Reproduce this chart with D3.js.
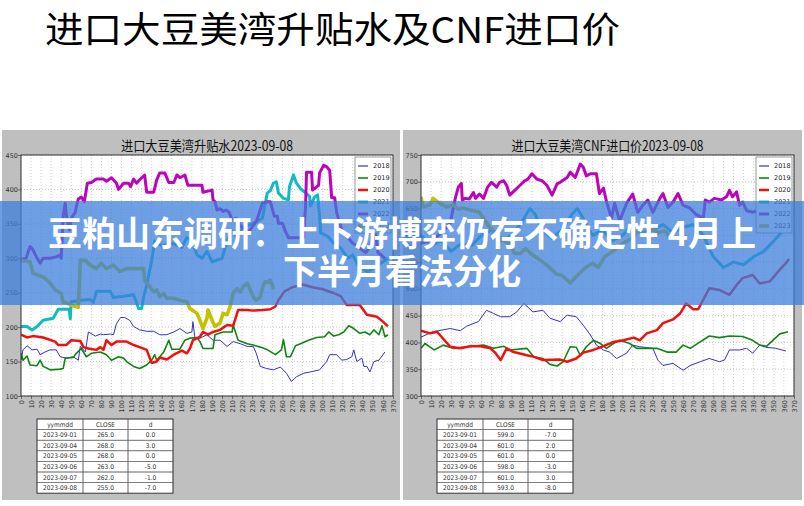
<!DOCTYPE html>
<html><head><meta charset="utf-8">
<script src="https://cdn.jsdelivr.net/npm/d3@7"></script>
<style>body{margin:0;background:#fff;}svg{display:block;}</style>
</head><body>
<svg id="c" width="804" height="506"></svg>
<script>
// ---------- text ----------
const pageTitle = "进口大豆美湾升贴水及CNF进口价";
const bannerLines = ["豆粕山东调研：上下游博弈仍存不确定性 4月上", "下半月看法分化"];
const leftTitle = "进口大豆美湾升贴水2023-09-08";
const rightTitle = "进口大豆美湾CNF进口价2023-09-08";
const years = ["2018", "2019", "2020", "2021", "2022", "2023"];
const xTicks = d3.range(0, 371, 10);
const leftYTicks = [100, 150, 200, 250, 300, 350, 400, 450];
const rightYTicks = [300, 350, 400, 450, 500, 550, 600, 650, 700, 750];

// ---------- left chart: 升贴水 (day, value) ----------
const L2018 = [[0,152],[2,167],[6,173],[11,167],[16,168],[19,160],[24,164],[29,167],[35,167],[39,157],[45,155],[52,157],[57,152],[59,172],[64,164],[67,193],[74,187],[79,190],[82,189],[89,190],[92,189],[95,205],[99,214],[103,214],[108,210],[112,201],[118,196],[125,194],[132,194],[138,189],[145,189],[152,193],[158,198],[165,191],[170,193],[171,208],[173,184],[178,184],[185,189],[191,181],[198,181],[205,172],[211,179],[218,176],[225,172],[231,172],[234,162],[238,143],[244,140],[251,138],[258,142],[264,133],[269,121],[274,128],[281,133],[288,135],[297,138],[304,150],[307,160],[314,160],[319,152],[324,153],[329,157],[331,167],[334,150],[339,155],[341,143],[344,143],[347,135],[351,150],[356,152],[362,164]];
const L2019 = [[0,162],[2,152],[6,158],[9,145],[16,144],[19,152],[22,143],[29,138],[39,139],[42,140],[44,155],[52,156],[55,162],[60,169],[65,157],[70,162],[79,164],[85,160],[90,152],[97,157],[102,155],[105,150],[112,143],[118,140],[125,145],[130,152],[133,160],[135,152],[138,157],[142,164],[147,181],[150,168],[158,168],[163,181],[168,184],[175,185],[178,179],[181,169],[191,169],[193,189],[201,193],[210,193],[211,203],[216,181],[225,176],[231,174],[238,171],[244,168],[253,160],[259,167],[261,182],[264,157],[268,157],[273,173],[278,176],[286,181],[294,185],[302,186],[306,193],[311,187],[316,189],[321,193],[326,202],[331,198],[337,191],[342,193],[347,189],[351,196],[356,189],[359,202],[362,186],[365,189]];
const L2020 = [[0,189],[6,185],[12,187],[22,185],[34,179],[37,174],[45,174],[50,181],[59,180],[62,171],[67,169],[75,167],[79,171],[82,167],[85,181],[90,174],[95,179],[105,179],[112,174],[118,171],[125,167],[130,148],[135,150],[138,156],[145,153],[152,160],[160,166],[165,162],[168,169],[171,181],[178,186],[181,193],[186,189],[191,193],[198,196],[205,203],[211,202],[216,225],[225,225],[231,224],[241,225],[248,226],[253,230],[256,239],[262,252],[270,258],[280,262],[290,258],[300,255],[310,250],[318,245],[324,232],[337,232],[344,218],[354,215],[360,208],[365,201]];
const L2021 = [[0,201],[6,201],[11,196],[16,201],[22,210],[32,213],[37,226],[45,226],[48,226],[49,212],[50,237],[59,239],[69,240],[72,236],[75,252],[89,252],[92,243],[102,245],[112,247],[117,227],[120,227],[122,244],[125,261],[130,297],[133,325],[140,318],[150,322],[160,316],[165,330],[170,325],[175,305],[180,300],[185,310],[190,295],[200,300],[205,325],[210,340],[215,330],[220,345],[230,350],[236,355],[240,358],[245,395],[248,398],[251,409],[254,411],[256,395],[261,387],[266,385],[267,404],[271,421],[274,409],[278,401],[283,395],[287,390],[288,376],[292,389],[295,392],[297,361],[298,337],[305,332],[311,322],[318,315],[325,300],[330,305],[335,290],[340,285],[345,280],[350,285],[355,290],[360,295],[365,300]];
const L2022 = [[0,298],[5,300],[9,317],[12,312],[16,300],[19,293],[22,300],[29,300],[35,302],[39,305],[40,300],[41,330],[42,363],[44,380],[45,363],[48,341],[50,358],[54,367],[55,375],[57,386],[60,389],[63,382],[66,409],[70,410],[75,415],[82,415],[85,412],[90,417],[95,409],[97,400],[102,409],[107,409],[109,404],[112,415],[115,409],[118,414],[123,421],[125,396],[132,396],[135,414],[138,424],[143,424],[147,410],[152,410],[155,421],[158,417],[163,421],[166,406],[180,406],[181,396],[190,399],[191,385],[193,382],[195,370],[198,372],[201,368],[204,370],[207,367],[210,355],[214,358],[219,346],[224,341],[227,339],[230,346],[234,353],[237,366],[240,380],[245,382],[248,382],[252,361],[255,361],[256,351],[260,351],[263,339],[266,330],[281,330],[283,374],[284,425],[289,425],[290,399],[296,406],[297,424],[301,435],[304,433],[307,428],[309,388],[312,388],[314,366],[320,337],[327,327],[330,322],[337,315],[343,308],[346,315],[349,327],[353,334],[355,308],[358,305],[362,300]];
const L2023 = [[0,297],[9,295],[12,278],[22,273],[29,264],[34,254],[40,249],[42,236],[44,236],[50,232],[57,229],[59,297],[64,297],[69,290],[75,285],[80,293],[85,285],[92,290],[98,281],[105,285],[122,285],[123,268],[128,259],[132,251],[135,254],[138,244],[142,249],[145,242],[152,242],[158,239],[165,237],[168,227],[175,220],[178,210],[181,198],[185,213],[186,225],[190,210],[193,201],[198,206],[201,220],[205,218],[208,230],[211,249],[215,256],[218,251],[221,259],[225,264],[228,254],[231,244],[234,239],[238,244],[241,261],[243,266],[245,265],[246,265],[247,268],[248,268],[249,263],[250,262],[251,255]];

// ---------- right chart: CNF 进口价 (day, value) ----------
const R2018 = [[0,410],[12,420],[29,426],[39,422],[45,430],[57,439],[65,460],[72,454],[79,448],[88,448],[95,457],[102,473],[111,457],[121,460],[128,445],[138,439],[145,451],[154,448],[161,432],[168,414],[174,395],[181,386],[187,382],[194,370],[204,380],[210,395],[217,392],[230,389],[235,367],[240,357],[250,361],[260,348],[267,357],[277,364],[286,370],[296,364],[301,367],[306,386],[316,386],[323,389],[329,380],[336,395],[342,391],[352,389],[362,384]];
const R2019 = [[0,389],[4,398],[13,386],[22,395],[32,389],[46,392],[62,395],[72,389],[82,393],[88,386],[105,389],[112,373],[121,370],[128,359],[135,356],[141,364],[148,392],[154,391],[158,376],[164,392],[171,404],[178,398],[184,389],[191,398],[197,404],[207,398],[214,389],[224,389],[234,389],[244,382],[253,382],[260,395],[267,389],[277,401],[286,412],[296,409],[306,412],[319,411],[329,404],[336,395],[343,393],[349,404],[356,416],[364,420]];
const R2020 = [[0,422],[9,417],[16,420],[22,407],[29,392],[39,389],[49,393],[59,393],[69,389],[74,380],[79,367],[85,389],[92,382],[105,376],[112,373],[121,367],[138,368],[145,364],[154,370],[161,381],[171,386],[181,393],[191,401],[201,404],[211,409],[217,404],[224,417],[234,423],[240,436],[250,443],[257,454],[263,473],[270,462],[275,462],[278,473],[286,501],[296,498],[306,489],[313,507],[319,520],[329,526],[336,510],[346,514],[356,536],[362,548],[365,556]];
const R2021 = [[0,600],[10,580],[20,590],[30,570],[40,585],[50,580],[60,600],[70,610],[80,590],[90,600],[100,625],[108,650],[113,640],[120,610],[130,595],[140,610],[150,640],[155,650],[160,635],[170,600],[180,610],[190,590],[200,600],[210,620],[220,605],[230,610],[240,620],[250,605],[260,615],[270,620],[280,600],[290,560],[300,540],[310,550],[320,545],[330,560],[340,570],[350,590],[360,610],[365,620]];
const R2022 = [[0,585],[8,590],[16,598],[24,612],[29,623],[34,669],[37,690],[40,697],[41,666],[44,669],[48,668],[52,680],[54,669],[58,677],[62,669],[66,690],[70,699],[75,690],[78,699],[82,702],[85,693],[88,675],[93,684],[98,693],[103,702],[106,705],[110,715],[115,705],[120,702],[125,693],[130,675],[135,696],[138,699],[145,708],[148,718],[153,708],[158,733],[161,727],[164,711],[168,715],[174,715],[177,678],[181,688],[184,663],[189,632],[192,660],[197,627],[204,660],[210,677],[215,643],[220,656],[225,666],[230,643],[237,669],[240,678],[245,652],[250,662],[255,678],[260,656],[266,652],[273,639],[280,632],[282,666],[286,662],[291,669],[298,666],[303,672],[306,684],[309,672],[313,681],[316,656],[319,662],[323,646],[329,643],[334,646],[340,640],[345,630],[350,620],[355,625],[360,615],[365,620]];
const R2023 = [[0,672],[2,653],[9,657],[12,669],[17,662],[25,653],[32,657],[37,649],[42,651],[45,649],[52,646],[58,643],[68,615],[75,603],[82,590],[88,584],[93,566],[98,566],[104,575],[109,566],[114,559],[121,550],[127,541],[134,528],[140,525],[148,511],[155,525],[164,541],[170,548],[176,540],[182,560],[190,570],[200,585],[210,595],[215,610],[220,600],[230,612],[235,604],[240,608],[244,606],[245,599],[246,601],[247,601],[248,598],[249,601],[250,593]];

// ---------- tables ----------
const tableHeader = ["yymmdd", "CLOSE", "d"];
const tableDates = ["2023-09-01", "2023-09-04", "2023-09-05", "2023-09-06", "2023-09-07", "2023-09-08"];
const leftClose = ["265.0", "268.0", "268.0", "263.0", "262.0", "255.0"];
const leftDiff = ["0.0", "3.0", "0.0", "-5.0", "-1.0", "-7.0"];
const rightClose = ["599.0", "601.0", "601.0", "598.0", "601.0", "593.0"];
const rightDiff = ["-7.0", "2.0", "0.0", "-3.0", "3.0", "-8.0"];

// ---------- styles ----------
const yearColors = ["#3232c8", "#118511", "#f01010", "#10bcc4", "#bb04bb", "#c2c200"];
const yearWidths = [1, 1.6, 2.5, 3, 3, 3.6];
const CJK = "'Noto Sans CJK SC','Noto Sans',sans-serif";
const TICKF = "'DejaVu Sans',sans-serif";

const svg = d3.select("#c");
svg.append("rect").attr("width", 804).attr("height", 506).attr("fill", "#fff");

svg.append("text").attr("x", 45).attr("y", 43).text(pageTitle)
  .attr("font-family", CJK).attr("font-size", 36).attr("fill", "#000")
  .attr("textLength", 575).attr("lengthAdjust", "spacingAndGlyphs");

function drawPanel(cfg) {
  const g = svg.append("g");
  g.append("rect").attr("x", cfg.px0).attr("y", 130).attr("width", cfg.px1 - cfg.px0).attr("height", 370).attr("fill", "#bfbfbf");
  g.append("text").attr("x", (cfg.x0 + cfg.x1) / 2).attr("y", 151).attr("text-anchor", "middle")
    .attr("font-family", CJK).attr("font-size", 14).attr("fill", "#111")
    .attr("textLength", cfg.titleLen).attr("lengthAdjust", "spacingAndGlyphs").text(cfg.title);

  const x = d3.scaleLinear().domain([0, 370]).range([cfg.x0, cfg.x1]);
  const y = d3.scaleLinear().domain(cfg.yDomain).range([cfg.y1, cfg.y0]);

  g.append("rect").attr("x", cfg.x0).attr("y", cfg.y0).attr("width", cfg.x1 - cfg.x0).attr("height", cfg.y1 - cfg.y0).attr("fill", "#fff");
  g.append("g").selectAll("line").data(xTicks).join("line")
    .attr("x1", d => x(d)).attr("x2", d => x(d)).attr("y1", cfg.y0).attr("y2", cfg.y1)
    .attr("stroke", "#b0b0b0").attr("stroke-width", 0.6).attr("stroke-dasharray", "1,2");
  g.append("g").selectAll("line").data(cfg.yTicks).join("line")
    .attr("x1", cfg.x0).attr("x2", cfg.x1).attr("y1", d => y(d)).attr("y2", d => y(d))
    .attr("stroke", "#a0a0a0").attr("stroke-width", 0.6).attr("stroke-dasharray", "1,2");

  const clipId = "clip" + cfg.id;
  g.append("clipPath").attr("id", clipId).append("rect")
    .attr("x", cfg.x0).attr("y", cfg.y0).attr("width", cfg.x1 - cfg.x0).attr("height", cfg.y1 - cfg.y0);
  const line = d3.line().x(d => x(d[0])).y(d => y(d[1]));
  const lg = g.append("g").attr("clip-path", `url(#${clipId})`);
  cfg.series.forEach((s, i) => {
    lg.append("path").attr("d", line(s)).attr("fill", "none")
      .attr("stroke", yearColors[i]).attr("stroke-width", yearWidths[i]).attr("stroke-linejoin", "round");
  });

  const ax = g.append("g").attr("transform", `translate(0,${cfg.y1})`)
    .call(d3.axisBottom(x).tickValues(xTicks).tickSize(3).tickFormat(d3.format("d")));
  ax.selectAll("text").attr("transform", "rotate(-90)")
    .attr("x", -4).attr("y", 0).attr("dy", "0.32em").attr("text-anchor", "end")
    .attr("font-family", TICKF).attr("font-size", 6.5).attr("fill", "#333");
  const ay = g.append("g").attr("transform", `translate(${cfg.x0},0)`)
    .call(d3.axisLeft(y).tickValues(cfg.yTicks).tickSize(3).tickFormat(d3.format("d")));
  ay.selectAll("text").attr("font-family", TICKF).attr("font-size", 6.5).attr("fill", "#333").attr("x", -3);
  [ax, ay].forEach(a => { a.select(".domain").remove(); a.selectAll("line").attr("stroke", "#333").attr("stroke-width", 0.6); });
  g.append("rect").attr("x", cfg.x0).attr("y", cfg.y0).attr("width", cfg.x1 - cfg.x0).attr("height", cfg.y1 - cfg.y0)
    .attr("fill", "none").attr("stroke", "#222").attr("stroke-width", 0.9);

  const lx = cfg.x1 - 38, ly = cfg.y0 + 2;
  const leg = g.append("g");
  leg.append("rect").attr("x", lx).attr("y", ly).attr("width", 36).attr("height", 76)
    .attr("fill", "#fff").attr("stroke", "#555").attr("stroke-width", 0.6);
  years.forEach((yr, i) => {
    const yy = ly + 9 + i * 12;
    leg.append("line").attr("x1", lx + 3).attr("x2", lx + 13).attr("y1", yy).attr("y2", yy)
      .attr("stroke", yearColors[i]).attr("stroke-width", Math.max(1.2, yearWidths[i]));
    leg.append("text").attr("x", lx + 18).attr("y", yy).attr("dy", "0.35em").text(yr)
      .attr("font-family", TICKF).attr("font-size", 6.5).attr("fill", "#222");
  });

  const tx = cfg.tableX, ty = 419, cw = [46, 45, 45], rh = 10.6;
  const rows = [tableHeader].concat(tableDates.map((d, i) => [d, cfg.close[i], cfg.diff[i]]));
  const tg = g.append("g");
  tg.append("rect").attr("x", tx).attr("y", ty).attr("width", d3.sum(cw)).attr("height", rh * rows.length).attr("fill", "#fff");
  rows.forEach((r, ri) => {
    let cx = tx;
    r.forEach((cell, ci) => {
      tg.append("rect").attr("x", cx).attr("y", ty + ri * rh).attr("width", cw[ci]).attr("height", rh)
        .attr("fill", "none").attr("stroke", "#666").attr("stroke-width", 0.6);
      tg.append("text").attr("x", cx + cw[ci] / 2).attr("y", ty + ri * rh + rh / 2).attr("dy", "0.35em")
        .attr("text-anchor", "middle").attr("font-family", "'Liberation Sans Narrow','DejaVu Sans Condensed',sans-serif")
        .attr("font-size", 6.5).attr("fill", "#333").text(cell);
      cx += cw[ci];
    });
  });
  tg.append("rect").attr("x", tx).attr("y", ty).attr("width", d3.sum(cw)).attr("height", rh * rows.length)
    .attr("fill", "none").attr("stroke", "#444").attr("stroke-width", 0.9);
}

drawPanel({id: "L", px0: 2, px1: 400, x0: 21, x1: 393, y0: 155, y1: 396, yDomain: [100, 450], yTicks: leftYTicks,
  title: leftTitle, titleLen: 172, series: [L2018, L2019, L2020, L2021, L2022, L2023],
  tableX: 37, close: leftClose, diff: leftDiff});
drawPanel({id: "R", px0: 403, px1: 802, x0: 421, x1: 794, y0: 155, y1: 396, yDomain: [300, 750], yTicks: rightYTicks,
  title: rightTitle, titleLen: 192, series: [R2018, R2019, R2020, R2021, R2022, R2023],
  tableX: 437, close: rightClose, diff: rightDiff});

svg.append("rect").attr("x", 0).attr("y", 201).attr("width", 804).attr("height", 104)
  .attr("fill", "rgb(60,125,220)").attr("fill-opacity", 0.74);
bannerLines.forEach((t, i) => {
  svg.append("text").attr("x", 402).attr("y", 246 + i * 38).attr("text-anchor", "middle").text(t)
    .attr("font-family", CJK).attr("font-weight", 700).attr("font-size", 34).attr("fill", "#fff");
});
</script>
</body></html>
